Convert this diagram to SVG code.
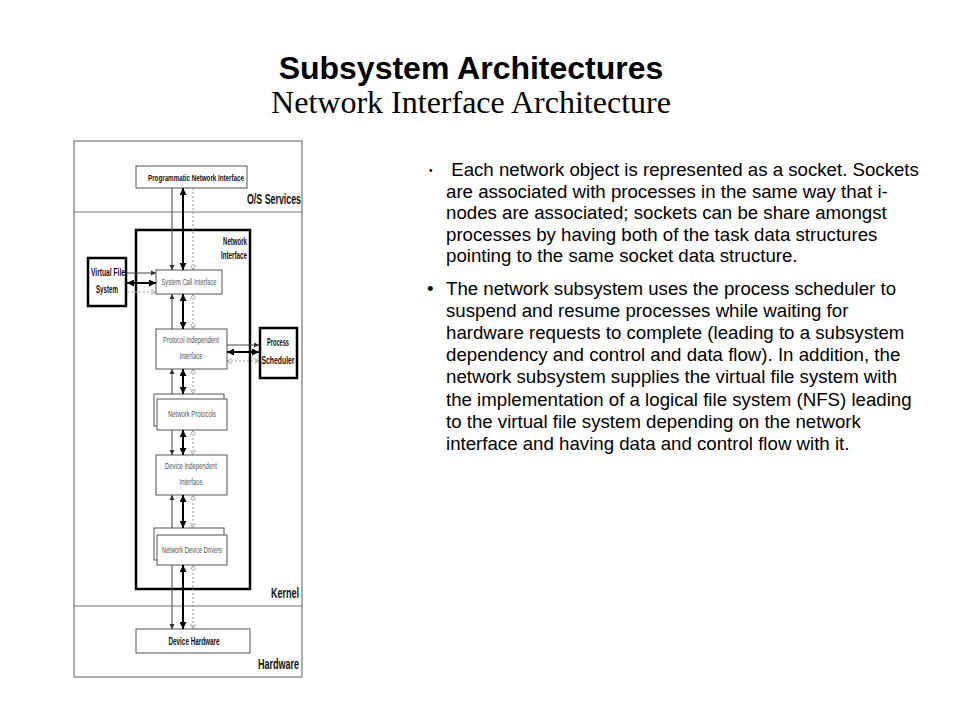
<svg xmlns="http://www.w3.org/2000/svg" width="960" height="720" viewBox="0 0 960 720">
<style>
.title{font-family:"Liberation Sans",Arial,sans-serif;font-weight:bold;font-size:32px;fill:#000}
.sub{font-family:"Liberation Serif","Times New Roman",serif;font-size:32px;fill:#000}
.body{font-family:"Liberation Sans",Arial,sans-serif;font-size:18.67px;fill:#000}
.frame{fill:none;stroke:#777;stroke-width:1.2}
.box{fill:#fff;stroke:#555;stroke-width:1}
.tbox{fill:#fff;stroke:#000;stroke-width:2.5}
.lbl{font-family:"Liberation Sans Narrow","Liberation Sans",sans-serif;font-size:9px;fill:#555;text-anchor:middle}
.blbl{font-family:"Liberation Sans Narrow","Liberation Sans",sans-serif;font-weight:bold;font-size:10px;fill:#111;text-anchor:middle}
.zone{font-family:"Liberation Sans Narrow","Liberation Sans",sans-serif;font-weight:bold;font-size:14px;fill:#111;text-anchor:end}
.thin{stroke:#444;stroke-width:1;fill:none}
.thick{stroke:#000;stroke-width:2;fill:none}
.dash{stroke:#999;stroke-width:1;stroke-dasharray:2 2;fill:none}
</style>
<defs>
<marker id="ah" viewBox="0 0 10 10" refX="10" refY="5" markerWidth="5" markerHeight="6" markerUnits="userSpaceOnUse" orient="auto-start-reverse"><path d="M0,0 L10,5 L0,10 z" fill="#333"/></marker>
<marker id="ahb" viewBox="0 0 10 10" refX="10" refY="5" markerWidth="7" markerHeight="7" markerUnits="userSpaceOnUse" orient="auto-start-reverse"><path d="M0,0 L10,5 L0,10 z" fill="#000"/></marker>
<marker id="ahd" viewBox="0 0 10 10" refX="10" refY="5" markerWidth="5" markerHeight="6" markerUnits="userSpaceOnUse" orient="auto-start-reverse"><path d="M0,0 L10,5 L0,10" fill="none" stroke="#888" stroke-width="1.5"/></marker>
</defs>
<rect width="960" height="720" fill="#fff"/>

<g id="title">
<text class="title" x="471" y="79" text-anchor="middle">Subsystem Architectures</text>
<text class="sub" x="471" y="113" text-anchor="middle">Network Interface Architecture</text>
</g>

<g id="frame">
<rect class="frame" x="74" y="141" width="228" height="536"/>
<line class="frame" x1="74" y1="212" x2="302" y2="212"/>
<line class="frame" x1="74" y1="606" x2="302" y2="606"/>
<text class="zone" x="301" y="204" textLength="54" lengthAdjust="spacingAndGlyphs">O/S Services</text>
<text class="zone" x="299" y="598" textLength="28" lengthAdjust="spacingAndGlyphs">Kernel</text>
<text class="zone" x="299" y="669" textLength="41" lengthAdjust="spacingAndGlyphs">Hardware</text>
</g>

<g id="network-interface">
<rect class="tbox" x="136" y="230" width="114" height="359"/>
<text class="blbl" x="247" y="245" style="text-anchor:end" textLength="24" lengthAdjust="spacingAndGlyphs">Network</text>
<text class="blbl" x="247" y="259" style="text-anchor:end" textLength="26" lengthAdjust="spacingAndGlyphs">Interface</text>
</g>

<g id="pni">
<rect class="box" x="136" y="166" width="111" height="22"/>
<text class="blbl" x="196" y="181" style="font-size:9px" textLength="96" lengthAdjust="spacingAndGlyphs">Programmatic Network Interface</text>
</g>

<g id="vfs">
<rect class="tbox" x="88" y="258" width="38" height="48"/>
<text class="blbl" x="108" y="276" textLength="34" lengthAdjust="spacingAndGlyphs">Virtual File</text>
<text class="blbl" x="107" y="293" textLength="22" lengthAdjust="spacingAndGlyphs">System</text>
</g>

<g id="sci">
<rect class="box" x="156" y="270" width="66" height="24"/>
<text class="lbl" x="189" y="285" textLength="55" lengthAdjust="spacingAndGlyphs">System Call Interface</text>
</g>

<g id="pii">
<rect class="box" x="156" y="329" width="71" height="40"/>
<text class="lbl" x="191" y="343" textLength="56" lengthAdjust="spacingAndGlyphs">Protocol Independent</text>
<text class="lbl" x="191" y="359" textLength="23" lengthAdjust="spacingAndGlyphs">Interface</text>
</g>

<g id="process-scheduler">
<rect class="tbox" x="260" y="328" width="37" height="50"/>
<text class="blbl" x="278" y="346" textLength="22" lengthAdjust="spacingAndGlyphs">Process</text>
<text class="blbl" x="278" y="364" textLength="33" lengthAdjust="spacingAndGlyphs">Scheduler</text>
</g>

<g id="np">
<rect class="box" x="154" y="394" width="70" height="32"/>
<rect class="box" x="157" y="399" width="70" height="31"/>
<text class="lbl" x="192" y="417" textLength="48" lengthAdjust="spacingAndGlyphs">Network Protocols</text>
</g>

<g id="dii">
<rect class="box" x="156" y="455" width="71" height="40"/>
<text class="lbl" x="191" y="469" textLength="52" lengthAdjust="spacingAndGlyphs">Device Independent</text>
<text class="lbl" x="191" y="485" textLength="23" lengthAdjust="spacingAndGlyphs">Interface</text>
</g>

<g id="ndd">
<rect class="box" x="154" y="528" width="70" height="32"/>
<rect class="box" x="157" y="535" width="70" height="30"/>
<text class="lbl" x="192" y="553" textLength="60" lengthAdjust="spacingAndGlyphs">Network Device Drivers</text>
</g>

<g id="dh">
<rect class="box" x="136" y="629" width="114" height="24"/>
<text class="blbl" x="194" y="645" textLength="51" lengthAdjust="spacingAndGlyphs">Device Hardware</text>
</g>

<g id="connectors">
<line class="thin" x1="172" y1="188" x2="172" y2="270" marker-end="url(#ah)"/>
<line class="thick" x1="183" y1="188" x2="183" y2="270" marker-start="url(#ahb)" marker-end="url(#ahb)"/>
<line class="dash" x1="193" y1="188" x2="193" y2="270" marker-end="url(#ahd)"/>

<line class="thin" x1="172" y1="329" x2="172" y2="294" marker-end="url(#ah)"/>
<line class="thick" x1="183" y1="294" x2="183" y2="329" marker-start="url(#ahb)" marker-end="url(#ahb)"/>
<line class="dash" x1="193" y1="294" x2="193" y2="329" marker-start="url(#ahd)" marker-end="url(#ahd)"/>

<line class="thin" x1="172" y1="394" x2="172" y2="369" marker-end="url(#ah)"/>
<line class="thick" x1="183" y1="369" x2="183" y2="394" marker-start="url(#ahb)" marker-end="url(#ahb)"/>
<line class="dash" x1="193" y1="369" x2="193" y2="394" marker-start="url(#ahd)" marker-end="url(#ahd)"/>

<line class="thin" x1="172" y1="430" x2="172" y2="455" marker-end="url(#ah)"/>
<line class="thick" x1="183" y1="430" x2="183" y2="455" marker-start="url(#ahb)" marker-end="url(#ahb)"/>
<line class="dash" x1="193" y1="430" x2="193" y2="455" marker-start="url(#ahd)" marker-end="url(#ahd)"/>

<line class="thin" x1="172" y1="528" x2="172" y2="495" marker-end="url(#ah)"/>
<line class="thick" x1="183" y1="495" x2="183" y2="528" marker-start="url(#ahb)" marker-end="url(#ahb)"/>
<line class="dash" x1="193" y1="495" x2="193" y2="528" marker-start="url(#ahd)" marker-end="url(#ahd)"/>

<line class="thin" x1="172" y1="565" x2="172" y2="629" marker-end="url(#ah)"/>
<line class="thick" x1="183" y1="565" x2="183" y2="629" marker-start="url(#ahb)" marker-end="url(#ahb)"/>
<line class="dash" x1="193" y1="565" x2="193" y2="629" marker-start="url(#ahd)" marker-end="url(#ahd)"/>

<line class="thin" x1="127" y1="273" x2="156" y2="273" marker-end="url(#ah)"/>
<line class="thick" x1="127" y1="283" x2="156" y2="283" marker-start="url(#ahb)" marker-end="url(#ahb)"/>
<line class="dash" x1="127" y1="292" x2="156" y2="292" marker-end="url(#ahd)"/>

<line class="thin" x1="227" y1="345" x2="259" y2="345" marker-end="url(#ah)"/>
<line class="thick" x1="227" y1="352" x2="259" y2="352" marker-start="url(#ahb)" marker-end="url(#ahb)"/>
<line class="dash" x1="227" y1="361" x2="259" y2="361" marker-start="url(#ahd)" marker-end="url(#ahd)"/>
</g>

<g id="bullets">
<text class="body" x="429" y="174" style="font-size:10px">•</text>
<text class="body" x="446" y="176" xml:space="preserve"> Each network object is represented as a socket. Sockets</text>
<text class="body" x="446" y="197.6">are associated with processes in the same way that i-</text>
<text class="body" x="446" y="219.2">nodes are associated; sockets can be share amongst</text>
<text class="body" x="446" y="240.8">processes by having both of the task data structures</text>
<text class="body" x="446" y="262.4">pointing to the same socket data structure.</text>

<text class="body" x="427" y="294.5">•</text>
<text class="body" x="446" y="294.5">The network subsystem uses the process scheduler to</text>
<text class="body" x="446" y="316.7">suspend and resume processes while waiting for</text>
<text class="body" x="446" y="338.9">hardware requests to complete (leading to a subsystem</text>
<text class="body" x="446" y="361.1">dependency and control and data flow). In addition, the</text>
<text class="body" x="446" y="383.3">network subsystem supplies the virtual file system with</text>
<text class="body" x="446" y="405.5">the implementation of a logical file system (NFS) leading</text>
<text class="body" x="446" y="427.7">to the virtual file system depending on the network</text>
<text class="body" x="446" y="449.9">interface and having data and control flow with it.</text>
</g>
</svg>
